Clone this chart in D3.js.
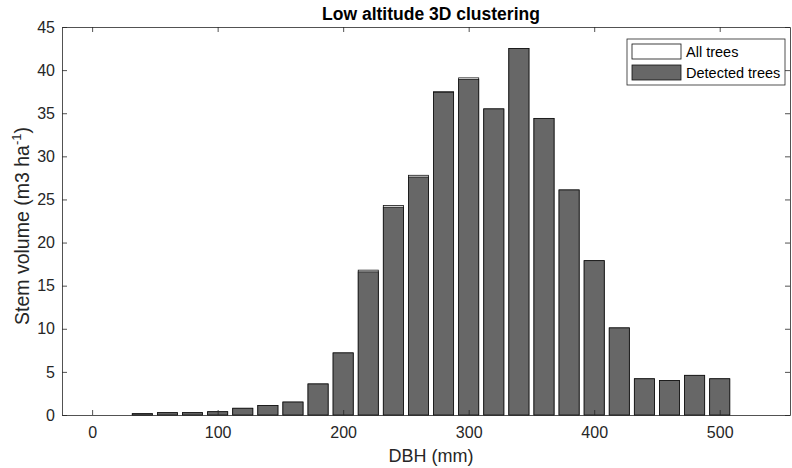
<!DOCTYPE html>
<html>
<head>
<meta charset="utf-8">
<script src="https://cdn.jsdelivr.net/npm/d3@7"></script>
<style>
  html, body { margin: 0; padding: 0; background: #fff; }
  svg { display: block; font-family: "Liberation Sans", Arial, sans-serif; }
</style>
</head>
<body>
<svg width="792" height="468"></svg>
<script>
// DBH class centres (mm)
const dbhClasses = [40, 60, 80, 100, 120, 140, 160, 180, 200, 220, 240, 260,
  280, 300, 320, 340, 360, 380, 400, 420, 440, 460, 480, 500];
const allTrees = [0.15, 0.27, 0.27, 0.38, 0.78, 1.1, 1.5, 3.6, 7.2, 16.8, 24.3, 27.8,
  37.5, 39.1, 35.5, 42.5, 34.4, 26.1, 17.9, 10.1, 4.2, 4.0, 4.6, 4.2];
const detectedTrees = [0.15, 0.27, 0.27, 0.38, 0.78, 1.1, 1.5, 3.6, 7.2, 16.6, 24.1, 27.6,
  37.4, 38.9, 35.5, 42.5, 34.4, 26.1, 17.9, 10.1, 4.2, 4.0, 4.6, 4.2];
const xTicks = [0, 100, 200, 300, 400, 500];
const yTicks = [0, 5, 10, 15, 20, 25, 30, 35, 40, 45];
const legendLabels = ["All trees", "Detected trees"];

const svg = d3.select("svg");
const pLeft = 62, pRight = 790, pTop = 27, pBottom = 415;
const axisColor = "#262626";

const x = d3.scaleLinear().domain([-24, 556]).range([pLeft, pRight]);
const y = d3.scaleLinear().domain([0, 45]).range([pBottom, pTop]);
const barW = x(16) - x(0);

// bars: all trees behind, detected in front
svg.append("g").selectAll("rect")
  .data(dbhClasses)
  .enter().append("rect")
  .attr("x", (d) => x(d) - barW / 2)
  .attr("y", (d, i) => y(allTrees[i]))
  .attr("width", barW)
  .attr("height", (d, i) => y(0) - y(allTrees[i]))
  .attr("fill", "#fff")
  .attr("stroke", "#111")
  .attr("stroke-width", 0.8);

svg.append("g").selectAll("rect")
  .data(dbhClasses)
  .enter().append("rect")
  .attr("x", (d) => x(d) - barW / 2)
  .attr("y", (d, i) => y(detectedTrees[i]))
  .attr("width", barW)
  .attr("height", (d, i) => y(0) - y(detectedTrees[i]))
  .attr("fill", "#676767")
  .attr("stroke", "#111")
  .attr("stroke-width", 0.8);

// axes (MATLAB style, ticks inside, box on)
const xAxis = svg.append("g").attr("transform", `translate(0,${pBottom})`)
  .call(d3.axisBottom(x).tickValues(xTicks).tickSizeInner(-5).tickSizeOuter(0).tickPadding(12));
const xTop = svg.append("g").attr("transform", `translate(0,${pTop})`)
  .call(d3.axisTop(x).tickValues(xTicks).tickSizeInner(-5).tickSizeOuter(0).tickFormat(""));
const yAxis = svg.append("g").attr("transform", `translate(${pLeft},0)`)
  .call(d3.axisLeft(y).tickValues(yTicks).tickSizeInner(-5).tickSizeOuter(0).tickPadding(7));
const yRight = svg.append("g").attr("transform", `translate(${pRight},0)`)
  .call(d3.axisRight(y).tickValues(yTicks).tickSizeInner(-5).tickSizeOuter(0).tickFormat(""));

[xAxis, xTop, yAxis, yRight].forEach((g) => {
  g.selectAll("path").attr("stroke", axisColor).attr("stroke-width", 0.8);
  g.selectAll("line").attr("stroke", axisColor).attr("stroke-width", 0.8);
  g.selectAll("text").attr("fill", axisColor).style("font-size", "16px");
});

// title
svg.append("text").attr("x", 431).attr("y", 20)
  .attr("text-anchor", "middle").style("font-size", "17.5px").style("font-weight", "bold")
  .attr("fill", "#000").text("Low altitude 3D clustering");

// x label
svg.append("text").attr("x", 431).attr("y", 462)
  .attr("text-anchor", "middle").style("font-size", "18px").attr("fill", axisColor)
  .text("DBH (mm)");

// y label with superscript
const yl = svg.append("text").attr("transform", "translate(29,226) rotate(-90)")
  .attr("text-anchor", "middle").style("font-size", "19.5px").attr("fill", axisColor);
yl.append("tspan").text("Stem volume (m3 ha");
yl.append("tspan").attr("dy", -8).style("font-size", "13px").text("-1");
yl.append("tspan").attr("dy", 8).text(")");

// legend
const lg = svg.append("g");
lg.append("rect").attr("x", 627).attr("y", 39).attr("width", 158).attr("height", 46)
  .attr("fill", "#fff").attr("stroke", axisColor).attr("stroke-width", 0.8);
const legendFills = ["#fff", "#676767"];
legendLabels.forEach((lab, i) => {
  lg.append("rect").attr("x", 632).attr("y", 44 + i * 21).attr("width", 49).attr("height", 15)
    .attr("fill", legendFills[i]).attr("stroke", "#111").attr("stroke-width", 0.8);
  lg.append("text").attr("x", 686).attr("y", 57 + i * 21)
    .style("font-size", "14.5px").attr("fill", "#000").text(lab);
});
</script>
</body>
</html>
